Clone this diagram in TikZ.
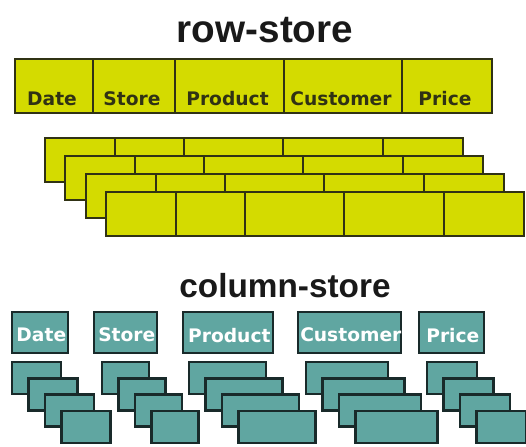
\documentclass[tikz,border=0pt]{standalone}
\usepackage{fontspec}
\setmainfont{DejaVu Sans}
\newfontfamily\headfont{Liberation Sans}
\usepackage{tikz}
\usetikzlibrary{positioning}
\definecolor{RowYellow}{RGB}{212,219,0}
\definecolor{ColTeal}{RGB}{96,166,161}
\definecolor{RowEdge}{RGB}{48,50,20}
\definecolor{ColEdge}{RGB}{25,42,42}

\begin{document}
\begin{tikzpicture}[
  x=0.75pt,y=-0.75pt,
  box/.style 2 args={minimum width=#1*0.75pt,minimum height=#2*0.75pt},
  cellbase/.style={draw,rectangle,anchor=north west,inner sep=0pt,outer sep=0pt},
  rowcell/.style={cellbase,draw=RowEdge,fill=RowYellow,line width=1.4pt},
  colcell/.style={cellbase,draw=ColEdge,fill=ColTeal,line width=2pt},
  title/.style={anchor=base,text=black!90,font=\headfont\bfseries\fontsize{#1}{#1}\selectfont},
  rowlbl/.style={anchor=base,text=RowEdge,font=\bfseries\fontsize{14}{14}\selectfont,inner sep=0pt},
  collbl/.style={anchor=center,text=white,font=\bfseries\fontsize{14}{14}\selectfont,inner sep=0pt}
]
\useasboundingbox (0,0) rectangle (526,447);

% row-store
\node[title=29] (rowtitle) at (265,42) {row-store};
\foreach \name/\x/\w/\txt in {date/15/78/Date, store/93/82/Store, product/175/109/Product,
    customer/284/118/Customer, price/402/90/Price} {
  \node[rowcell,box={\w}{54}] (h\name) at (\x,59) {};
  \node[rowlbl] (l\name) at ([xshift=-1.5pt,yshift=5.5pt]h\name.south) {\txt};
}
\foreach \r in {0,...,3} {
  \pgfmathsetmacro\xo{45+20.3*\r}
  \pgfmathsetmacro\yo{138+18*\r}
  \foreach \c/\dx/\w in {1/0/70, 2/70/69, 3/139/99, 4/238/100, 5/338/80}
    \node[rowcell,box={\w}{44}] (rec\r-\c) at (\xo+\dx,\yo) {};
}

% column-store
\node[title=25] (coltitle) at (285,297) {column-store};
\foreach \name/\x/\w/\txt/\sx/\sw in {date/12/56/Date/12/49, store/94/63/Store/102/47,
    product/183/90/Product/189/77, customer/298/103/Customer/306/82, price/419/65/Price/427/50} {
  \node[colcell,box={\w}{41}] (c\name) at (\x,312) {};
  \node[collbl] (t\name) at ([xshift=1pt,yshift=-2pt]c\name.center) {\txt};
  \foreach \k in {0,...,3}
    \node[colcell,box={\sw}{32}] (s\name\k) at (\sx+16.5*\k,362+16.3*\k) {};
}
\end{tikzpicture}
\end{document}
